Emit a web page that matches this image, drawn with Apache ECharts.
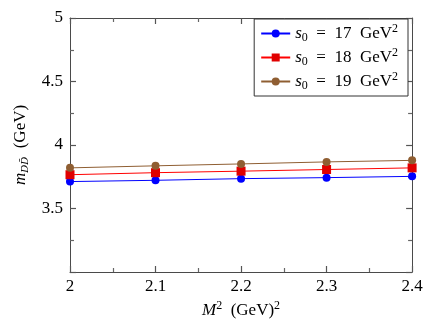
<!DOCTYPE html>
<html>
<head>
<meta charset="utf-8">
<script src="https://cdn.jsdelivr.net/npm/echarts@6/dist/echarts.min.js"></script>
<style>
  html, body { margin: 0; padding: 0; background: #fff; }
  #chart { width: 437px; height: 327px; }
</style>
</head>
<body>
<div id="chart"></div>
<script>
  // M^2 values (GeV^2)
  const m2 = [2.0, 2.1, 2.2, 2.3, 2.4]
  // mass for each threshold s0
  const s17 = [3.712, 3.722, 3.735, 3.743, 3.753]
  const s18 = [3.766, 3.782, 3.794, 3.807, 3.820]
  const s19 = [3.820, 3.836, 3.851, 3.867, 3.879]
  const seriesNames = ['s0 = 17 GeV²', 's0 = 18 GeV²', 's0 = 19 GeV²']

  const font = 'Liberation Serif'
  const axisGray = '#4a4a4a'

  const pairs = (xs, ys) => xs.map((x, i) => [x, ys[i]])

  let chart = echarts.init(document.getElementById('chart'))

  // fresh objects per axis, ticks drawn inside like pgfplots
  const tk = () => ({ show: true, inside: true, length: 6, lineStyle: { color: '#555', width: 1.2 } })
  const mn = () => ({ show: true, splitNumber: 2, length: 4, lineStyle: { color: '#666', width: 1.2 } })
  const hiddenLabel = () => ({ show: true, color: 'rgba(0,0,0,0)', fontSize: 10 })

  const legendRich = {
    s: { fontFamily: font, fontStyle: 'italic', fontSize: 17, color: '#000' },
    sub: { fontFamily: font, fontSize: 12, color: '#000', padding: [9, 0, 0, 0] },
    t: { fontFamily: font, fontSize: 17, color: '#000' },
    sup: { fontFamily: font, fontSize: 12, color: '#000', padding: [0, 0, 9, 0] }
  }

  let option = {
    animation: false,
    grid: { left: 70, right: 23, top: 14, bottom: 55 },
    legend: {
      right: 29, top: 19,
      orient: 'vertical',
      backgroundColor: '#fff',
      borderColor: '#333',
      borderWidth: 1,
      padding: [4, 10, 4, 6],
      itemGap: 3,
      itemWidth: 29,
      itemHeight: 10,
      data: seriesNames,
      formatter: name => {
        let v = name.match(/= (\d+)/)[1]
        return `{s|s}{sub|0}{t|  =  ${v}  GeV}{sup|2}`
      },
      textStyle: { rich: legendRich }
    },
    xAxis: [{
      type: 'value', min: 2, max: 2.4, interval: 0.1,
      name: '{i|M}{sup|2}{t|  (GeV)}{sup|2}',
      nameLocation: 'middle', nameGap: 26,
      nameTextStyle: {
        rich: {
          i: { fontFamily: font, fontStyle: 'italic', fontSize: 17, color: '#000' },
          t: { fontFamily: font, fontSize: 17, color: '#000' },
          sup: { fontFamily: font, fontSize: 12, color: '#000', padding: [0, 0, 9, 0] }
        }
      },
      axisLine: { show: true, lineStyle: { color: axisGray } },
      axisTick: tk(), minorTick: mn(),
      splitLine: { show: false },
      axisLabel: { color: '#000', fontFamily: font, fontSize: 17, margin: 6 }
    }, {
      type: 'value', min: 2, max: 2.4, interval: 0.1, position: 'top',
      axisLine: { show: true, lineStyle: { color: axisGray } },
      axisTick: tk(), minorTick: mn(),
      splitLine: { show: false }, axisLabel: hiddenLabel()
    }],
    yAxis: [{
      type: 'value', min: 3, max: 5, interval: 0.5,
      name: '{i|m}{sub|DD\u0304}{t|  (GeV)}',
      nameLocation: 'middle', nameGap: 40,
      nameTextStyle: {
        rich: {
          i: { fontFamily: font, fontStyle: 'italic', fontSize: 17, color: '#000' },
          sub: { fontFamily: 'DejaVu Serif', fontStyle: 'italic', fontSize: 10, color: '#000', padding: [9, 0, 0, 0] },
          t: { fontFamily: font, fontSize: 17, color: '#000' }
        }
      },
      axisLine: { show: true, lineStyle: { color: axisGray } },
      axisTick: tk(), minorTick: mn(),
      splitLine: { show: false },
      axisLabel: {
        fontFamily: font, fontSize: 17, margin: 7,
        color: v => (Number(v) === 3 ? 'rgba(0,0,0,0)' : '#000')
      }
    }, {
      type: 'value', min: 3, max: 5, interval: 0.5, position: 'right',
      axisLine: { show: true, lineStyle: { color: axisGray } },
      axisTick: tk(), minorTick: mn(),
      splitLine: { show: false }, axisLabel: hiddenLabel()
    }],
    series: [
      {
        name: seriesNames[0], type: 'line', data: pairs(m2, s17),
        symbol: 'circle', symbolSize: 8,
        itemStyle: { color: '#0000ff' }, lineStyle: { color: '#0000ff', width: 1 }
      },
      {
        name: seriesNames[1], type: 'line', data: pairs(m2, s18),
        symbol: 'rect', symbolSize: 9,
        itemStyle: { color: '#e00000' }, lineStyle: { color: '#ff0000', width: 1 }
      },
      {
        name: seriesNames[2], type: 'line', data: pairs(m2, s19),
        symbol: 'circle', symbolSize: 8,
        itemStyle: { color: '#8f5e32' }, lineStyle: { color: '#8f5e32', width: 1 }
      }
    ]
  }

  chart.setOption(option)
</script>
</body>
</html>
